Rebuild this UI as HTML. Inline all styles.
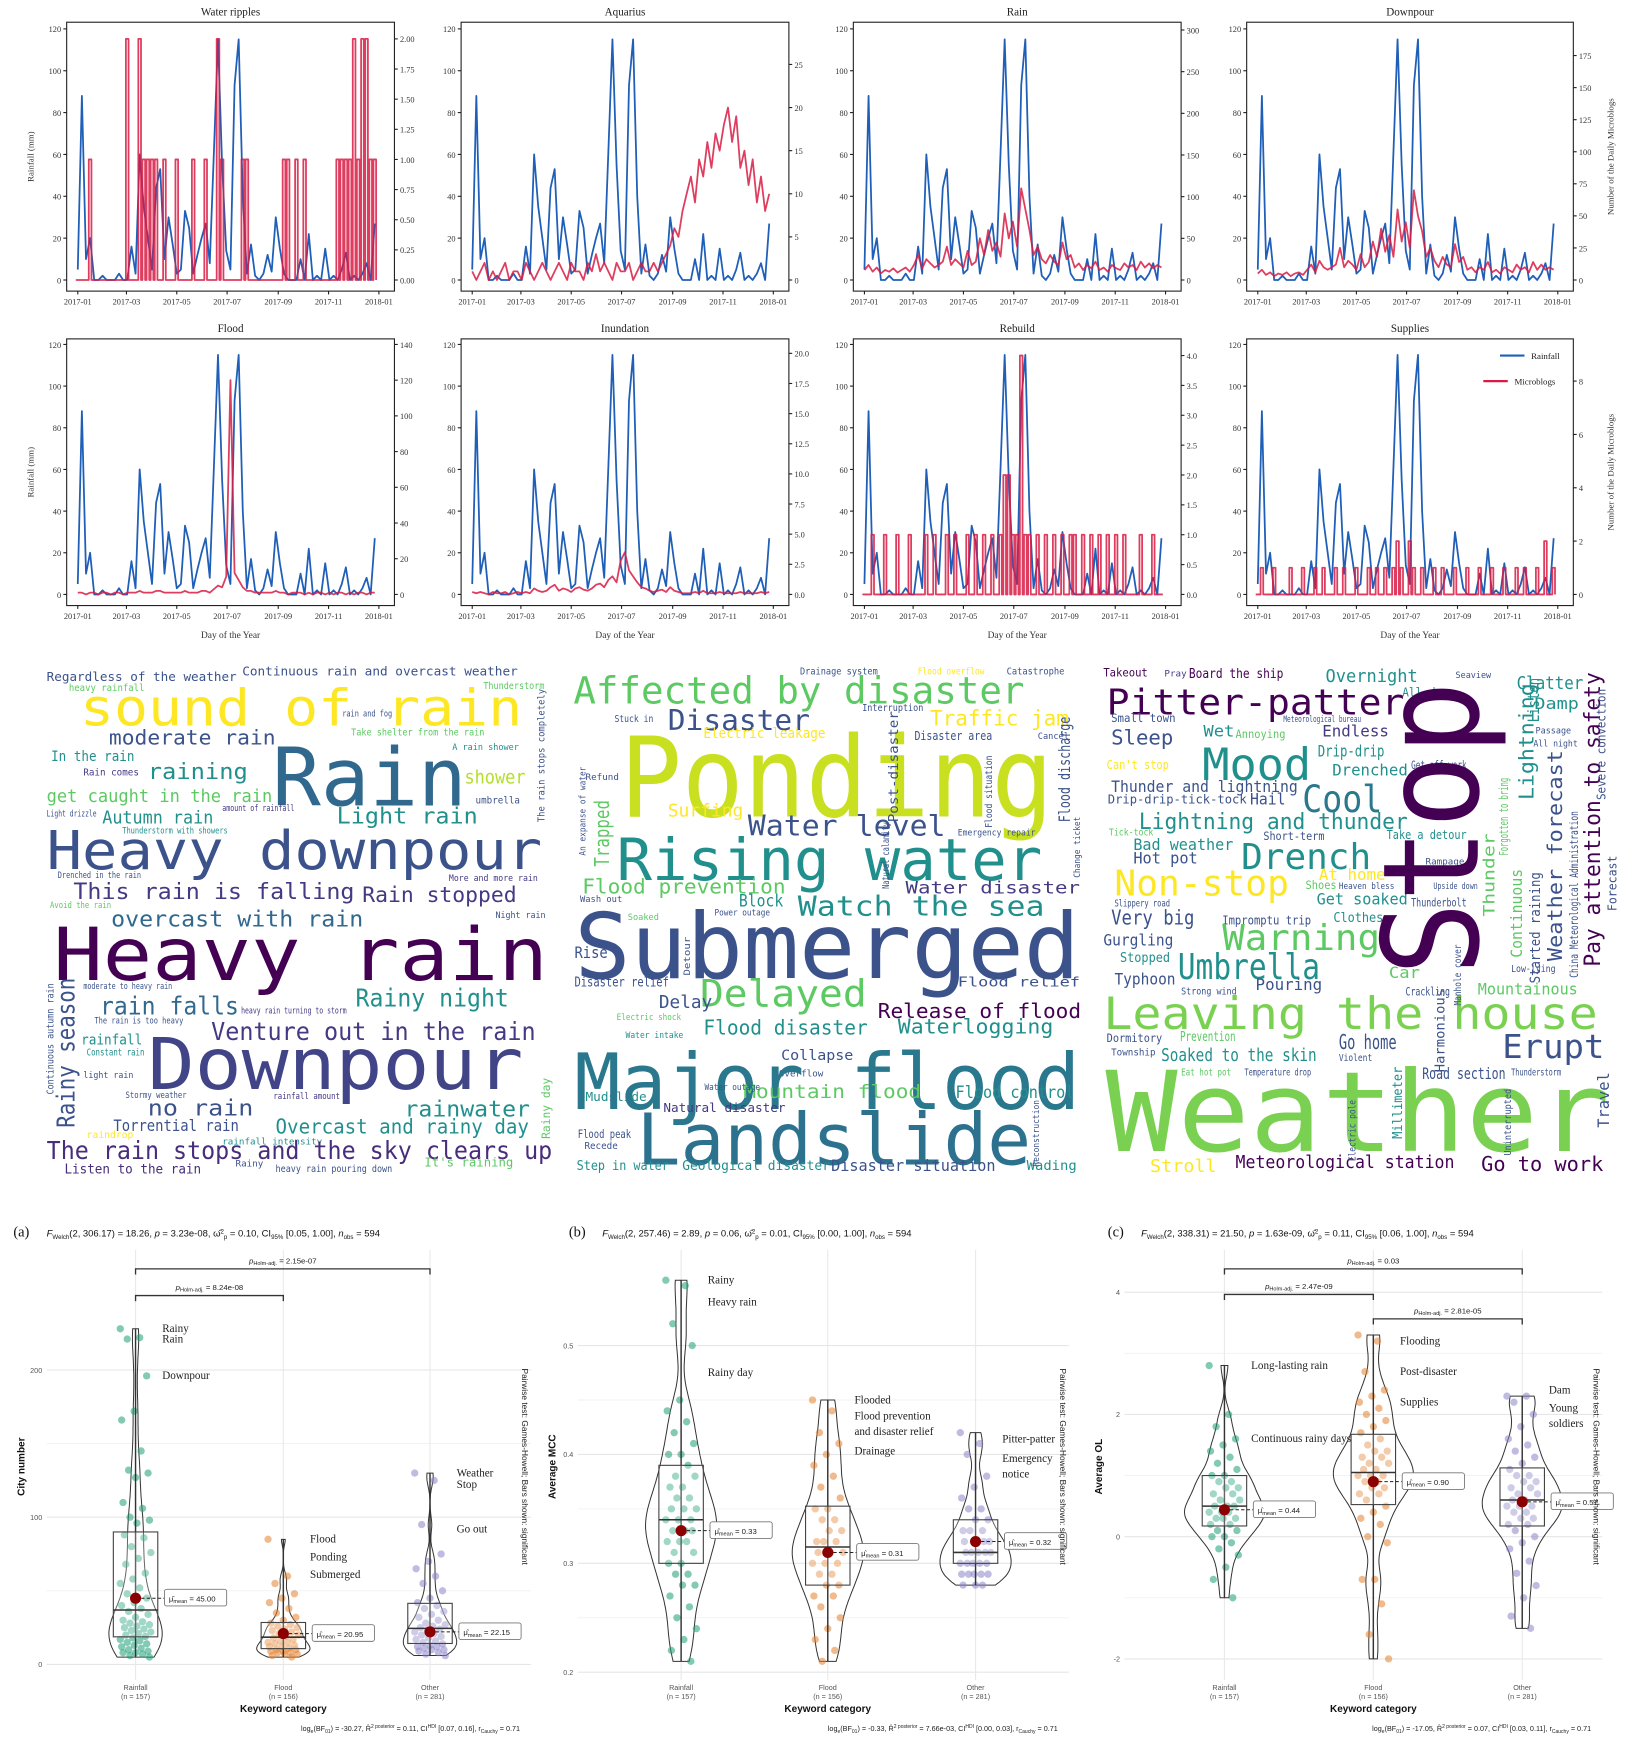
<!DOCTYPE html>
<html><head><meta charset="utf-8"><title>Rainfall and microblog keyword figure</title>
<style>
html,body{margin:0;padding:0;background:#fff;}
svg{display:block;}
</style></head>
<body>
<svg id="fig" xmlns="http://www.w3.org/2000/svg" width="1630" height="1740" viewBox="0 0 1467 1566" font-family="Liberation Serif, serif">
<rect x="0" y="0" width="1467" height="1566" fill="#fff"/>
</svg>
<script>
// ================= TIME SERIES DATA (5-day resolution) =================
const tsTitles = ["Water ripples","Aquarius","Rain","Downpour","Flood","Inundation","Rebuild","Supplies"];
const xTickLabels = ["2017-01","2017-03","2017-05","2017-07","2017-09","2017-11","2018-01"];
const xTickDays = [0,59,120,181,243,304,365];
const leftTicks = [0,20,40,60,80,100,120];
const rainfall = [5,88,10,20,0,0,2,0,0,0,3,0,0,16,3,60,35,20,5,44,53,10,30,17,3,5,33,25,3,12,20,27,8,61,115,55,14,5,93,115,40,3,17,2,0,3,12,4,30,15,3,0,0,0,10,0,22,0,2,0,15,0,2,0,5,13,0,2,0,3,8,0,27];
const redWater = [0,0,0,1,0,0,0,0,0,0,0,0,2,0,0,2,1,1,1,1,0,1,0,0,1,0,0,0,1,0,0,1,0,0,2,1,0,0,0,0,1,1,0,0,0,0,0,0,0,0,1,1,0,1,0,1,0,0,0,0,0,0,0,1,1,1,1,2,1,2,2,1,1];
const redAquarius = [1,0,1,2,0,1,0,1,2,0,1,1,0,2,1,0,1,2,1,0,1,2,1,0,2,1,1,0,2,1,3,1,2,1,0,2,1,1,2,0,1,2,1,1,2,1,2,3,4,6,5,8,10,12,9,14,12,16,13,17,15,18,20,16,19,13,15,11,14,9,12,8,10];
const redRain = [12,18,10,15,8,12,10,14,9,12,15,10,18,30,14,25,20,15,18,22,40,18,25,20,15,35,18,22,50,30,60,35,45,28,80,50,70,40,110,85,60,30,40,25,20,30,22,18,45,25,30,15,20,12,18,14,22,12,15,10,18,14,12,20,15,18,12,22,15,20,14,18,15];
const redDownpour = [5,8,4,6,3,5,4,6,3,5,6,4,8,12,6,15,10,8,10,12,25,10,15,12,8,20,10,14,30,18,40,22,35,18,55,30,45,25,70,50,38,18,25,15,10,18,12,10,28,14,18,8,10,6,10,8,14,6,8,5,10,8,6,12,8,10,6,14,8,12,8,10,8];
const redFlood = [1,1,0,1,1,0,1,1,0,1,1,0,1,1,1,2,1,1,1,2,2,1,1,1,1,1,2,1,1,1,2,2,1,3,5,4,10,120,12,8,4,2,2,1,1,1,1,1,2,1,1,0,1,1,1,0,1,0,1,1,0,1,0,1,1,0,1,0,1,1,0,1,1];
const redInundation = [0.2,0.1,0.2,0.1,0.0,0.2,0.1,0.1,0.2,0.0,0.1,0.2,0.1,0.2,0.1,0.5,0.3,0.2,0.3,0.6,0.8,0.3,0.5,0.4,0.2,0.5,0.6,0.4,0.3,0.5,0.8,0.9,0.6,1.2,1.5,1.0,2.8,3.5,2.0,1.5,1.0,0.6,0.5,0.3,0.2,0.3,0.4,0.2,0.6,0.3,0.2,0.1,0.1,0.1,0.2,0.1,0.3,0.1,0.1,0.1,0.2,0.1,0.1,0.1,0.1,0.2,0.1,0.1,0.1,0.1,0.2,0.1,0.2];
const redRebuild = [0,0,1,0,0,1,0,0,1,0,0,1,0,0,0,1,0,1,0,0,1,0,1,0,0,1,0,1,0,1,0,1,0,1,2,2,1,1,4,1,1,0,1,0,1,0,1,0,1,0,1,1,0,1,0,1,0,1,0,1,0,1,0,1,0,0,0,1,0,0,1,0,0];
const redSupplies = [0,1,0,0,1,0,0,0,1,0,0,1,0,0,1,0,1,0,0,1,0,1,0,0,1,0,0,1,0,1,0,1,0,1,2,1,0,2,1,0,1,0,0,1,0,1,0,0,1,0,0,1,0,0,1,0,0,1,0,0,1,0,0,1,0,1,0,0,1,0,2,0,1];
const rightTicksWater = [0,0.25,0.5,0.75,1,1.25,1.5,1.75,2];
const rightTicksAquarius = [0,5,10,15,20,25];
const rightTicksRain = [0,50,100,150,200,250,300];
const rightTicksDownpour = [0,25,50,75,100,125,150,175];
const rightTicksFlood = [0,20,40,60,80,100,120,140];
const rightTicksInundation = [0,2.5,5,7.5,10,12.5,15,17.5,20];
const rightTicksRebuild = [0,0.5,1,1.5,2,2.5,3,3.5,4];
const rightTicksSupplies = [0,2,4,6,8];

const NS = "http://www.w3.org/2000/svg";
const svg = document.getElementById('fig');
function el(tag, attrs, parent){
  const e = document.createElementNS(NS, tag);
  for (const k in attrs) e.setAttribute(k, attrs[k]);
  (parent || svg).appendChild(e);
  return e;
}
function txt(s, attrs, parent){
  const e = el('text', attrs, parent);
  e.textContent = s;
  return e;
}

const redSeries = [redWater,redAquarius,redRain,redDownpour,redFlood,redInundation,redRebuild,redSupplies];
const rightTicks = [rightTicksWater,rightTicksAquarius,rightTicksRain,rightTicksDownpour,rightTicksFlood,rightTicksInundation,rightTicksRebuild,rightTicksSupplies];
const rightDecimals = [2,0,0,0,0,1,1,0];
const rightTopPx = [35,58,27,50,310,318,320,343];
const spikeStyle = [true,false,false,false,false,false,true,true];
const colX = [[60,355],[415,710],[768,1063],[1122,1416]];
const rows = [{top:20,bottom:262,zero:252,y120:26},{top:305,bottom:545,zero:535,y120:310}];

for (let p = 0; p < 8; p++) {
  const r = rows[Math.floor(p/4)];
  const [x0,x1] = colX[p%4];
  const g = el('g', {});
  
  
  const xs = d => x0 + 10 + d * (x1 - x0 - 24) / 365;
  const yl = v => r.zero - v * (r.zero - r.y120) / 120;
  const rt = rightTicks[p];
  const rMax = rt[rt.length-1];
  const yr = v => r.zero - v * (r.zero - rightTopPx[p]) / rMax;

  const frame = el('rect', {x:x0, y:r.top, width:x1-x0, height:r.bottom-r.top, fill:'none', stroke:'#222', 'stroke-width':1}, g);
  
  
  const title = txt(tsTitles[p], {x:(x0+x1)/2, y:r.top-6, 'text-anchor':'middle', 'font-size':10, fill:'#222'}, g);
  
  

  leftTicks.forEach(v => {
    const t = el('line', {x1:x0-3, x2:x0, y1:yl(v), y2:yl(v), stroke:'#222'}, g);
    
    
    const l = txt(String(v), {x:x0-5, y:yl(v)+3, 'text-anchor':'end', 'font-size':7.5, fill:'#333'}, g);
    
    
  });
  rt.forEach(v => {
    const t = el('line', {x1:x1, x2:x1+3, y1:yr(v), y2:yr(v), stroke:'#222'}, g);
    
    
    const l = txt(v.toFixed(rightDecimals[p]), {x:x1+5, y:yr(v)+3, 'font-size':7.5, fill:'#333'}, g);
    
    
  });
  xTickDays.forEach((d,i) => {
    const t = el('line', {x1:xs(d), x2:xs(d), y1:r.bottom, y2:r.bottom+3, stroke:'#222'}, g);
    
    
    const l = txt(xTickLabels[i], {x:xs(d), y:r.bottom+12, 'text-anchor':'middle', 'font-size':7.5, fill:'#333'}, g);
    
    
  });

  const bluePts = rainfall.map((v,i) => xs(i*5).toFixed(1) + ',' + yl(v).toFixed(1)).join(' ');
  const blue = el('polyline', {points:bluePts, fill:'none', stroke:'#1f5fb8', 'stroke-width':1.6, 'stroke-linejoin':'round'}, g);
  
  
  let rd;
  if (spikeStyle[p]) {
    rd = 'M' + xs(0).toFixed(1) + ',' + yr(0).toFixed(1);
    redSeries[p].forEach((v,i) => {
      const cx = xs(i*5);
      rd += ' L' + (cx-1.2).toFixed(1) + ',' + yr(0).toFixed(1) + ' L' + (cx-1.2).toFixed(1) + ',' + yr(v).toFixed(1) + ' L' + (cx+1.2).toFixed(1) + ',' + yr(v).toFixed(1) + ' L' + (cx+1.2).toFixed(1) + ',' + yr(0).toFixed(1);
    });
  } else {
    rd = 'M' + redSeries[p].map((v,i) => xs(i*5).toFixed(1) + ',' + yr(v).toFixed(1)).join(' L');
  }
  const red = el('path', {d:rd, fill:'none', stroke:'#d81b43', 'stroke-width':1.6, 'stroke-opacity':0.85, 'stroke-linejoin':'round'}, g);
  
  

  if (p % 4 === 0) {
    const yt = txt('Rainfall (mm)', {x:0, y:0, 'text-anchor':'middle', 'font-size':8, fill:'#333', transform:'translate(30,' + ((r.top+r.bottom)/2) + ') rotate(-90)'}, g);
    
    
  }
  if (p % 4 === 3) {
    const yt2 = txt('Number of the Daily Microblogs', {x:0, y:0, 'text-anchor':'middle', 'font-size':8, fill:'#333', transform:'translate(1452,' + ((r.top+r.bottom)/2) + ') rotate(-90)'}, g);
    
    
  }
  if (p >= 4) {
    const xt = txt('Day of the Year', {x:(x0+x1)/2, y:574, 'text-anchor':'middle', 'font-size':8.5, fill:'#333'}, g);
    
    
  }
  if (p === 7) {
    const lg = el('g', {}, g);
    
    
    const l1 = el('line', {x1:1350, x2:1372, y1:320, y2:320, stroke:'#1f5fb8', 'stroke-width':2}, lg);
    
    
    const t1 = txt('Rainfall', {x:1378, y:323, 'font-size':8, fill:'#222'}, lg);
    
    
    const l2 = el('line', {x1:1335, x2:1357, y1:343, y2:343, stroke:'#d81b43', 'stroke-width':2}, lg);
    
    
    const t2 = txt('Microblogs', {x:1363, y:346, 'font-size':8, fill:'#222'}, lg);
    
    
  }
}

// ================= WORD CLOUDS =================
const cloudRain = [
 ["Regardless of the weather",42,613,171,11,"#3b528b",0],["heavy rainfall",62,622,68,9,"#5dc963",0],
 ["Continuous rain and overcast weather",218,608,248,11,"#3b528b",0],["Thunderstorm",435,620,55,9,"#5dc963",0],
 ["sound of rain",72,653,398,46,"#fde725",0],["moderate rain",98,670,150,18,"#3b528b",0],
 ["In the rain",46,685,75,13,"#21908d",0],["Rain comes",75,698,50,9,"#443983",0],
 ["raining",133,701,90,20,"#21908d",0],["Rain",245,725,175,72,"#31688e",0],
 ["shower",418,705,55,17,"#b5de2b",0],["A rain shower",407,675,60,8,"#21908d",0],
 ["Take shelter from the rain",316,662,120,9,"#5dc963",0],["rain and fog",308,645,45,8,"#3b528b",0],
 ["get caught in the rain",42,722,203,16,"#5dc963",0],["Autumn rain",92,741,100,16,"#21908d",0],
 ["Light rain",303,741,127,20,"#21908d",0],["umbrella",428,723,40,9,"#3b528b",0],
 ["amount of rainfall",200,730,65,8,"#443983",0],["Light drizzle",42,735,45,8,"#3b528b",0],
 ["Heavy downpour",42,782,446,48,"#3b528b",0],["Thunderstorm with showers",110,750,95,8,"#21908d",0],
 ["This rain is falling",66,809,253,20,"#443983",0],["Rain stopped",326,812,139,19,"#443983",0],
 ["Drenched in the rain",52,790,75,8,"#3b528b",0],["More and more rain",404,793,80,8,"#443983",0],
 ["overcast with rain",100,834,227,20,"#31688e",0],["Avoid the rain",45,817,55,8,"#5dc963",0],
 ["Heavy rain",48,882,445,66,"#440154",0],["Night rain",446,826,45,8,"#3b528b",0],
 ["rain falls",90,913,125,22,"#31688e",0],["Rainy night",320,906,138,22,"#21908d",0],
 ["Venture out in the rain",190,936,292,22,"#443983",0],["rainfall",73,940,55,13,"#21908d",0],
 ["moderate to heavy rain",75,890,80,8,"#3b528b",0],["Constant rain",78,950,52,9,"#21908d",0],
 ["heavy rain turning to storm",217,912,95,8,"#443983",0],["The rain is too heavy",85,921,80,8,"#3b528b",0],
 ["Downpour",133,980,338,64,"#414487",0],["light rain",75,970,45,8,"#3b528b",0],
 ["no rain",133,1004,95,20,"#3b528b",0],["rainwater",364,1005,113,20,"#21908d",0],
 ["Stormy weather",113,988,55,8,"#3b528b",0],["rainfall amount",246,989,60,8,"#443983",0],
 ["Torrential rain",102,1018,113,14,"#3b528b",0],["raindrop",78,1024,42,9,"#fde725",0],
 ["Overcast and rainy day",248,1020,228,18,"#21908d",0],["rainfall intensity",200,1030,90,8,"#21908d",0],
 ["The rain stops and the sky clears up",42,1043,455,22,"#472d7b",0],
 ["Listen to the rain",58,1056,123,12,"#472d7b",0],["heavy rain pouring down",248,1055,105,9,"#3b528b",0],
 ["It's raining",382,1050,80,11,"#5dc963",0],["Rainy",212,1050,25,8,"#3b528b",0],
 ["Rainy season",67,1015,135,22,"#3b528b",-90],["Continuous autumn rain",48,985,100,9,"#3b528b",-90],
 ["The rain stops completely",490,740,120,9,"#3b528b",-90],["Rainy day",495,1025,55,10,"#5dc963",-90]
];
const cloudFlood = [
 ["Affected by disaster",516,633,406,34,"#5dc963",0],["Drainage system",720,607,70,9,"#3b528b",0],
 ["Flood overflow",826,607,60,9,"#fde725",0],["Catastrophe",906,607,52,9,"#3b528b",0],
 ["Disaster",601,657,128,26,"#3b528b",0],["Interruption",776,640,55,9,"#3b528b",0],
 ["Stuck in",553,650,35,9,"#3b528b",0],["Traffic jam",837,653,125,19,"#fde725",0],
 ["Electric leakage",633,664,110,13,"#fde725",0],["Disaster area",823,666,70,11,"#3b528b",0],
 ["Cancel",934,665,28,8,"#3b528b",0],["Refund",527,702,30,8,"#3b528b",0],
 ["Ponding",558,735,390,100,"#c8e020",0],["Surfing",601,735,68,16,"#fde725",0],
 ["Water level",673,752,178,26,"#3b528b",0],["Emergency repair",862,752,70,8,"#3b528b",0],
 ["Rising water",555,792,383,52,"#21908d",0],["Flood prevention",524,804,183,18,"#5dc963",0],
 ["Water disaster",815,804,157,15,"#443983",0],["Watch the sea",718,824,222,25,"#21908d",0],
 ["Block",665,816,40,15,"#21908d",0],["Wash out",522,812,38,8,"#3b528b",0],
 ["Power outage",643,824,50,8,"#3b528b",0],["Soaked",565,828,28,8,"#5dc963",0],
 ["Submerged",517,880,455,82,"#3b528b",0],["Rise",517,862,30,14,"#3b528b",0],
 ["Disaster relief",517,888,85,12,"#3b528b",0],["Flood relief",862,888,110,12,"#3b528b",0],
 ["Delayed",630,906,150,34,"#5dc963",0],["Delay",593,907,48,16,"#3b528b",0],
 ["Electric shock",555,918,58,8,"#5dc963",0],["Release of flood",790,916,183,18,"#440154",0],
 ["Flood disaster",633,931,148,18,"#21908d",0],["Waterlogging",808,930,140,18,"#21908d",0],
 ["Collapse",703,954,65,13,"#3b528b",0],["Water intake",563,934,52,8,"#21908d",0],
 ["Overflow",701,969,40,8,"#3b528b",0],["Mudslide",527,991,55,11,"#21908d",0],
 ["Major flood",517,998,455,70,"#2a788e",0],["Mountain flood",669,988,160,17,"#5dc963",0],
 ["Flood control",860,988,107,15,"#21908d",0],["Natural disaster",597,1001,110,11,"#443983",0],
 ["Water outage",634,981,50,8,"#3b528b",0],["Flood peak",520,1024,48,10,"#3b528b",0],
 ["Recede",526,1034,30,9,"#3b528b",0],
 ["Landslide",573,1048,355,64,"#2c728e",0],["Step in water",519,1053,83,12,"#21908d",0],
 ["Geological disaster",614,1053,133,12,"#21908d",0],["Disaster situation",748,1054,148,14,"#3b528b",0],
 ["Wading",924,1053,45,12,"#21908d",0],["Trapped",548,780,60,18,"#5dc963",-90],
 ["An expanse of water",527,770,80,8,"#3b528b",-90],["Flood discharge",963,740,95,14,"#3b528b",-90],
 ["Post-disaster",808,740,100,12,"#3b528b",-90],["Natural calamity",800,800,60,9,"#3b528b",-90],
 ["Flood situation",893,745,65,9,"#3b528b",-90],["Change ticket",972,790,55,8,"#3b528b",-90],
 ["Detour",621,878,35,8,"#3b528b",-90],["Reconstruction",935,1050,60,8,"#3b528b",-90]
];
const cloudOther = [
 ["Takeout",993,609,40,10,"#440154",0],["Pray",1048,609,20,8,"#443983",0],
 ["Board the ship",1070,610,85,12,"#440154",0],["Overnight",1193,614,83,16,"#21908d",0],
 ["Seaview",1310,610,32,8,"#3b528b",0],["Clatter",1365,620,60,16,"#21908d",0],
 ["Pitter-patter",996,643,268,32,"#440154",0],["All day",1262,627,42,11,"#21908d",0],
 ["Meteorological bureau",1155,650,70,8,"#3b528b",0],["Damp",1381,638,40,14,"#21908d",0],
 ["Small town",1000,650,58,10,"#3b528b",0],["Sleep",1000,670,56,18,"#3b528b",0],
 ["Wet",1083,663,28,14,"#21908d",0],["Annoying",1112,664,45,10,"#5dc963",0],
 ["Endless",1190,663,60,14,"#443983",0],["Passage",1382,660,32,8,"#3b528b",0],
 ["Mood",1082,702,98,40,"#21908d",0],["Can't stop",996,692,56,11,"#fde725",0],
 ["Drip-drip",1186,681,60,14,"#21908d",0],["Drenched",1199,698,68,14,"#21908d",0],
 ["Get off work",1270,692,50,10,"#3b528b",0],["All night",1380,672,40,8,"#3b528b",0],
 ["Thunder and lightning",1000,713,168,14,"#3b528b",0],["Drip-drip-tick-tock",997,723,125,11,"#3b528b",0],
 ["Hail",1125,724,32,14,"#3b528b",0],["Cool",1172,731,72,34,"#2a788e",0],
 ["Lightning and thunder",1025,746,242,20,"#21908d",0],["Short-term",1137,756,55,10,"#3b528b",0],
 ["Take a detour",1248,755,72,11,"#21908d",0],["Tick-tock",998,752,40,9,"#5dc963",0],
 ["Bad weather",1020,765,90,14,"#21908d",0],["Hot pot",1020,777,58,14,"#3b528b",0],
 ["Drench",1117,782,117,32,"#21908d",0],["Rampage",1283,778,35,8,"#3b528b",0],
 ["Non-stop",1003,806,157,32,"#fde725",0],["At home",1187,792,60,14,"#fde725",0],
 ["Shoes",1175,800,28,10,"#5dc963",0],["Heaven bless",1205,800,50,8,"#3b528b",0],
 ["Slippery road",1003,816,50,9,"#3b528b",0],["Get soaked",1185,814,82,14,"#21908d",0],
 ["Thunderbolt",1270,816,50,10,"#3b528b",0],["Upside down",1290,800,40,8,"#3b528b",0],
 ["Very big",1000,832,75,18,"#3b528b",0],["Impromptu trip",1100,832,80,11,"#3b528b",0],
 ["Clothes",1200,830,45,12,"#21908d",0],["Gurgling",993,851,63,14,"#3b528b",0],
 ["Warning",1100,855,142,32,"#5dc963",0],["Stopped",1008,866,45,12,"#21908d",0],
 ["Typhoon",1003,886,55,14,"#3b528b",0],["Umbrella",1060,881,128,32,"#21908d",0],
 ["Pouring",1130,891,60,14,"#3b528b",0],["Strong wind",1063,895,50,9,"#3b528b",0],
 ["Car",1250,880,28,14,"#5dc963",0],["Crackling",1265,896,40,10,"#3b528b",0],
 ["Low-lying",1360,875,40,9,"#3b528b",0],["Mountainous",1330,895,90,14,"#5dc963",0],
 ["Leaving the house",993,926,445,40,"#7ad151",0],["Prevention",1062,937,50,12,"#5dc963",0],
 ["Dormitory",996,938,50,10,"#3b528b",0],["Township",1000,950,40,9,"#3b528b",0],
 ["Soaked to the skin",1045,955,140,16,"#21908d",0],["Go home",1205,944,52,18,"#3b528b",0],
 ["Violent",1205,955,30,9,"#3b528b",0],["Erupt",1352,952,92,30,"#3b528b",0],
 ["Road section",1280,971,75,14,"#3b528b",0],["Thunderstorm",1360,968,45,9,"#3b528b",0],
 ["Temperature drop",1120,968,60,9,"#3b528b",0],["Eat hot pot",1063,968,45,9,"#5dc963",0],
 ["Weather",995,1036,454,100,"#7ad151",0],["Stroll",1035,1055,60,16,"#fde725",0],
 ["Meteorological station",1112,1051,197,16,"#440154",0],["Go to work",1333,1054,110,18,"#440154",0],
 ["Stop",1330,878,265,120,"#440154",-90],["Lightning",1380,720,105,18,"#21908d",-90],
 ["Weather forecast",1406,865,190,18,"#3b528b",-90],["Pay attention to safety",1440,870,265,20,"#440154",-90],
 ["Thunder",1345,825,75,14,"#5dc963",-90],["Continuous",1370,862,80,14,"#5dc963",-90],
 ["Forgotten to bring",1357,770,70,11,"#5dc963",-90],["Started raining",1386,885,100,13,"#3b528b",-90],
 ["China Meteorological Administration",1420,880,150,10,"#3b528b",-90],["Severe convection",1445,720,100,11,"#3b528b",-90],
 ["Forecast",1455,820,50,11,"#3b528b",-90],["Listen",1385,650,40,14,"#21908d",-90],
 ["Harmonious",1300,965,75,12,"#3b528b",-90],["Manhole cover",1315,905,55,9,"#3b528b",-90],
 ["Travel",1448,1015,50,14,"#3b528b",-90],["Millimeter",1262,1025,65,12,"#21908d",-90],
 ["Electric pole",1220,1045,55,9,"#3b528b",-90],["Uninterrupted",1360,1040,60,9,"#3b528b",-90]
];
const clouds = [[cloudRain,'wordcloud-rainfall'],[cloudFlood,'wordcloud-flood'],[cloudOther,'wordcloud-other']];
clouds.forEach(([words, name]) => {
  const g = el('g', {'font-family':'DejaVu Sans Mono, Liberation Mono, monospace'});
  
  
  words.forEach(w => {
    const [s,x,y,wd,sz,col,rot] = w;
    const a = {x:x, y:y, 'font-size':sz, fill:col, textLength:wd, lengthAdjust:'spacingAndGlyphs'};
    if (rot) a.transform = 'rotate(' + rot + ' ' + x + ' ' + y + ')';
    const t = txt(s, a, g);
    
    
  });
});

// ================= VIOLIN PLOTS DATA =================
const catNames = ["Rainfall","Flood","Other"];
const catCounts = [157,156,281];
const rainA = [228,222,221,196,172,166,145,132,130,127,110,106,100,98,96,88,86,80,76,72,68,62,58,55,52,48,45,42,40,38,36,34,32,30,29,28,27,26,25,24,23,22,21,20,19,18,17,16,15,14,13,12,11,10,9,8,8,7,6,5];
const floodA = [85,60,55,48,45,42,38,35,32,30,28,27,26,25,24,23,22,21,20,19,18,17,16,15,15,14,13,12,12,11,10,10,9,9,8,8,7,7,6,5];
const otherA = [130,125,95,75,70,65,60,55,50,45,42,40,38,36,34,32,30,28,27,26,25,24,23,22,21,20,19,18,17,16,15,14,13,12,12,11,10,10,9,8,7,6];
const rainB = [0.56,0.555,0.52,0.5,0.45,0.44,0.43,0.42,0.41,0.40,0.40,0.39,0.38,0.38,0.37,0.37,0.36,0.36,0.35,0.35,0.35,0.34,0.34,0.34,0.33,0.33,0.33,0.32,0.32,0.32,0.31,0.31,0.30,0.30,0.29,0.29,0.28,0.28,0.27,0.26,0.25,0.24,0.23,0.22,0.21];
const floodB = [0.45,0.44,0.42,0.41,0.40,0.39,0.38,0.37,0.36,0.35,0.35,0.34,0.34,0.33,0.33,0.32,0.32,0.32,0.31,0.31,0.31,0.30,0.30,0.30,0.29,0.29,0.28,0.28,0.27,0.27,0.26,0.25,0.24,0.23,0.22,0.21];
const otherB = [0.42,0.41,0.40,0.38,0.37,0.36,0.35,0.35,0.34,0.34,0.33,0.33,0.33,0.32,0.32,0.32,0.32,0.31,0.31,0.31,0.31,0.31,0.30,0.30,0.30,0.30,0.30,0.29,0.29,0.29,0.29,0.29,0.28,0.28,0.28];
const rainC = [2.8,2.0,1.8,1.6,1.5,1.4,1.3,1.2,1.1,1.0,1.0,0.9,0.9,0.8,0.8,0.7,0.7,0.6,0.6,0.5,0.5,0.5,0.4,0.4,0.4,0.3,0.3,0.3,0.2,0.2,0.1,0.1,0.0,0.0,-0.1,-0.2,-0.3,-0.5,-0.7,-1.0];
const floodC = [3.3,3.2,2.7,2.4,2.3,2.2,2.1,2.0,1.9,1.8,1.7,1.6,1.5,1.4,1.4,1.3,1.3,1.2,1.2,1.1,1.1,1.0,1.0,1.0,0.9,0.9,0.8,0.8,0.7,0.7,0.6,0.5,0.4,0.3,0.2,0.0,-0.1,-0.7,-0.7,-1.1,-1.6,-2.0];
const otherC = [2.3,2.3,2.2,2.0,1.8,1.6,1.5,1.4,1.3,1.2,1.1,1.0,1.0,0.9,0.9,0.8,0.8,0.7,0.7,0.6,0.6,0.5,0.5,0.5,0.4,0.4,0.3,0.3,0.2,0.2,0.1,0.0,-0.1,-0.2,-0.4,-0.6,-0.8,-1.0,-1.3,-1.5];
const meansA = [45.00,20.95,22.15];
const meansB = [0.33,0.31,0.32];
const meansC = [0.44,0.90,0.57];
const ticksA = [0,100,200];
const ticksB = [0.2,0.3,0.4,0.5];
const ticksC = [-2,0,2,4];
const pointLabelsA = [[["Rainy",228],["Rain",221],["Downpour",196]],[["Flood",85],["Ponding",73],["Submerged",61]],[["Weather",130],["Stop",122],["Go out",92]]];
const pointLabelsB = [[["Rainy",0.56],["Heavy rain",0.54],["Rainy day",0.475]],[["Flooded",0.45],["Flood prevention",0.435],["and disaster relief",0.421],["Drainage",0.403]],[["Pitter-patter",0.414],["Emergency",0.396],["notice",0.382]]];
const pointLabelsC = [[["Long-lasting rain",2.8],["Continuous rainy days",1.6]],[["Flooding",3.2],["Post-disaster",2.7],["Supplies",2.2]],[["Dam",2.4],["Young",2.1],["soldiers",1.85]]];
const pvalsA = ["2.15e-07","8.24e-08"];
const pvalsC = ["0.03","2.47e-09","2.81e-05"];

const catColors = ["#1b9e77","#e6822e","#8b84c8"];
const violinPanels = [
 {letter:'(a)', name:'violin-panel-a', x0:0, area:[42,478], catX:[122,255,387], v0:0, p0:1498, v1:200, p1:1233,
  ticks:ticksA, minor:[50,150], fmt:0, data:[rainA,floodA,otherA], means:meansA, labels:pointLabelsA, ytitle:'City number',
  W:24, sub:['(2, 306.17) = 18.26, ','3.23e-08','0.10','[0.05, 1.00]'],
  brackets:[[0,2,1142,pvalsA[0]],[0,1,1166,pvalsA[1]]], bf:['-30.27','0.11','[0.07, 0.16]']},
 {letter:'(b)', name:'violin-panel-b', x0:500, area:[520,962], catX:[613,745,878], v0:0.2, p0:1505, v1:0.5, p1:1211,
  ticks:ticksB, minor:[0.25,0.35,0.45], fmt:1, data:[rainB,floodB,otherB], means:meansB, labels:pointLabelsB, ytitle:'Average MCC',
  W:32, sub:['(2, 257.46) = 2.89, ','0.06','0.01','[0.00, 1.00]'],
  brackets:[], bf:['-0.33','7.66e-03','[0.00, 0.03]']},
 {letter:'(c)', name:'violin-panel-c', x0:985, area:[1012,1442], catX:[1102,1236,1370], v0:0, p0:1383, v1:4, p1:1163,
  ticks:ticksC, minor:[-1,1,3], fmt:0, data:[rainC,floodC,otherC], means:meansC, labels:pointLabelsC, ytitle:'Average OL',
  W:36, sub:['(2, 338.31) = 21.50, ','1.63e-09','0.11','[0.06, 1.00]'],
  brackets:[[0,2,1142,pvalsC[0]],[0,1,1165,pvalsC[1]],[1,2,1187,pvalsC[2]]], bf:['-17.05','0.07','[0.03, 0.11]']}
];

function quantile(sorted, q){
  const pos = (sorted.length-1)*q, lo = Math.floor(pos), hi = Math.ceil(pos);
  return sorted[lo] + (sorted[hi]-sorted[lo])*(pos-lo);
}

violinPanels.forEach(P => {
  const g = el('g', {});
  
  
  const ys = v => P.p0 + (v - P.v0) * (P.p1 - P.p0) / (P.v1 - P.v0);
  const [ax0, ax1] = P.area;
  const sans = 'Liberation Sans, sans-serif';

  const hl = txt(P.letter, {x:P.x0+12, y:1113, 'font-size':13, fill:'#111'}, g);
  
  
  const st = el('text', {x:P.x0+42, y:1113, 'font-size':8.5, fill:'#111', 'font-family':sans}, g);
  
  
  st.innerHTML = '<tspan font-style="italic">F</tspan><tspan font-size="5.5" dy="2">Welch</tspan><tspan dy="-2">' + P.sub[0] + '</tspan><tspan font-style="italic">p</tspan> = ' + P.sub[1] + ', ω̂<tspan font-size="5.5" dy="-3">2</tspan><tspan font-size="5.5" dy="5">p</tspan><tspan dy="-2"> = ' + P.sub[2] + ', CI</tspan><tspan font-size="5.5" dy="2">95%</tspan><tspan dy="-2"> ' + P.sub[3] + ', </tspan><tspan font-style="italic">n</tspan><tspan font-size="5.5" dy="2">obs</tspan><tspan dy="-2"> = 594</tspan>';

  P.minor.forEach(v => {
    const gl = el('line', {x1:ax0, x2:ax1, y1:ys(v), y2:ys(v), stroke:'#f1f1f1', 'stroke-width':0.8}, g);
    
    
  });
  P.ticks.forEach(v => {
    const gl = el('line', {x1:ax0, x2:ax1, y1:ys(v), y2:ys(v), stroke:'#e6e6e6', 'stroke-width':1}, g);
    
    
    const tl = txt(v.toFixed(P.fmt), {x:ax0-4, y:ys(v)+2.5, 'text-anchor':'end', 'font-size':6.5, fill:'#555', 'font-family':sans}, g);
    
    
  });
  P.catX.forEach(cx => {
    const vl = el('line', {x1:cx, x2:cx, y1:1125, y2:1512, stroke:'#e9e9e9', 'stroke-width':1}, g);
    
    
  });

  P.brackets.forEach(b => {
    const [i, j, by, pv] = b;
    const bp = el('path', {d:'M' + P.catX[i] + ',' + (by+5) + ' V' + by + ' H' + P.catX[j] + ' V' + (by+5), fill:'none', stroke:'#333', 'stroke-width':1.2}, g);
    
    
    const bt = el('text', {x:(P.catX[i]+P.catX[j])/2, y:by-5, 'text-anchor':'middle', 'font-size':7, fill:'#222', 'font-family':sans}, g);
    
    
    bt.innerHTML = '<tspan font-style="italic">p</tspan><tspan font-size="5" dy="1.5">Holm-adj.</tspan><tspan dy="-1.5"> = ' + pv + '</tspan>';
  });

  P.data.forEach((vals, c) => {
    const cx = P.catX[c];
    const sorted = vals.slice().sort((a,b) => a-b);
    const n = vals.length;
    const mean = vals.reduce((a,b) => a+b, 0)/n;
    const sd = Math.sqrt(vals.reduce((a,b) => a+(b-mean)*(b-mean), 0)/(n-1));
    const q1 = quantile(sorted, 0.25), q3 = quantile(sorted, 0.75), med = quantile(sorted, 0.5);
    const iqr = q3 - q1;
    const h = 0.6 * Math.min(sd, iqr/1.34) * Math.pow(n, -0.2);
    const lo = sorted[0], hi = sorted[n-1];
    const steps = 100, dens = [];
    for (let k = 0; k <= steps; k++) {
      const v = lo + (hi-lo)*k/steps;
      let s = 0;
      vals.forEach(x => { const z = (v-x)/h; s += Math.exp(-0.5*z*z); });
      dens.push([v, s]);
    }
    const mx = Math.max(...dens.map(d => d[1]));
    let dpath = '';
    dens.forEach((d,k) => { dpath += (k ? 'L' : 'M') + (cx + d[1]/mx*P.W).toFixed(1) + ',' + ys(d[0]).toFixed(1); });
    for (let k = steps; k >= 0; k--) dpath += 'L' + (cx - dens[k][1]/mx*P.W).toFixed(1) + ',' + ys(dens[k][0]).toFixed(1);
    dpath += 'Z';
    const vio = el('path', {d:dpath, fill:'none', stroke:'#333', 'stroke-width':0.9}, g);
    
    

    vals.forEach((v,i) => {
      const dx = (((i*37) % 23) - 11) * 1.25;
      const pt = el('circle', {cx:cx+dx, cy:ys(v), r:3.3, fill:catColors[c], 'fill-opacity':0.55}, g);
      
      
    });

    const wl = el('line', {x1:cx, x2:cx, y1:ys(lo), y2:ys(hi), stroke:'#333', 'stroke-width':1.3}, g);
    
    
    const bx = el('rect', {x:cx-20, y:ys(q3), width:40, height:Math.abs(ys(q1)-ys(q3)), fill:'#fff', 'fill-opacity':0.25, stroke:'#444', 'stroke-width':1}, g);
    
    
    const ml = el('line', {x1:cx-20, x2:cx+20, y1:ys(med), y2:ys(med), stroke:'#333', 'stroke-width':1.4}, g);
    
    

    const my = ys(P.means[c]);
    const dl = el('line', {x1:cx, x2:cx+26, y1:my, y2:my, stroke:'#222', 'stroke-dasharray':'3,2', 'stroke-width':0.9}, g);
    
    
    const md = el('circle', {cx:cx, cy:my, r:5, fill:'#8b0000'}, g);
    
    
    const mr = el('rect', {x:cx+26, y:my-8, width:56, height:15, rx:2, fill:'#fff', stroke:'#777', 'stroke-width':0.8}, g);
    
    
    const mt = el('text', {x:cx+30, y:my+3, 'font-size':7, fill:'#222', 'font-family':sans}, g);
    
    
    mt.innerHTML = 'μ̂<tspan font-size="5" dy="1.5">mean</tspan><tspan dy="-1.5"> = ' + P.means[c].toFixed(2) + '</tspan>';

    P.labels[c].forEach(lb => {
      const lt = txt(lb[0], {x:cx+24, y:ys(lb[1])+3, 'font-size':10, fill:'#222'}, g);
      
      
    });

    const cl = txt(catNames[c], {x:cx, y:1521, 'text-anchor':'middle', 'font-size':6.5, fill:'#555', 'font-family':sans}, g);
    
    
    const cn = txt('(n = ' + catCounts[c] + ')', {x:cx, y:1529, 'text-anchor':'middle', 'font-size':6.5, fill:'#555', 'font-family':sans}, g);
    
    
  });

  const xt = txt('Keyword category', {x:P.catX[1], y:1541, 'text-anchor':'middle', 'font-size':9, 'font-weight':'bold', fill:'#111', 'font-family':sans}, g);
  
  
  const yt = txt(P.ytitle, {x:0, y:0, 'text-anchor':'middle', 'font-size':9, 'font-weight':'bold', fill:'#111', 'font-family':sans, transform:'translate(' + (ax0-20) + ',1320) rotate(-90)'}, g);
  
  
  const rtx = txt('Pairwise test: Games-Howell; Bars shown: significant', {x:0, y:0, 'text-anchor':'middle', 'font-size':7.5, fill:'#222', 'font-family':sans, transform:'translate(' + (ax1-8) + ',1320) rotate(90)'}, g);
  
  
  const bf = el('text', {x:ax1-10, y:1558, 'text-anchor':'end', 'font-size':6.5, fill:'#222', 'font-family':sans}, g);
  
  
  bf.innerHTML = 'log<tspan font-size="4.5" dy="1.5">e</tspan><tspan dy="-1.5">(BF</tspan><tspan font-size="4.5" dy="1.5">01</tspan><tspan dy="-1.5">) = ' + P.bf[0] + ', R̂</tspan><tspan font-size="4.5" dy="-3">2 posterior</tspan><tspan dy="3"> = ' + P.bf[1] + ', CI</tspan><tspan font-size="4.5" dy="-3">HDI</tspan><tspan dy="3"> ' + P.bf[2] + ', r</tspan><tspan font-size="4.5" dy="1.5">Cauchy</tspan><tspan dy="-1.5"> = 0.71</tspan>';
});
</script>
</body></html>
